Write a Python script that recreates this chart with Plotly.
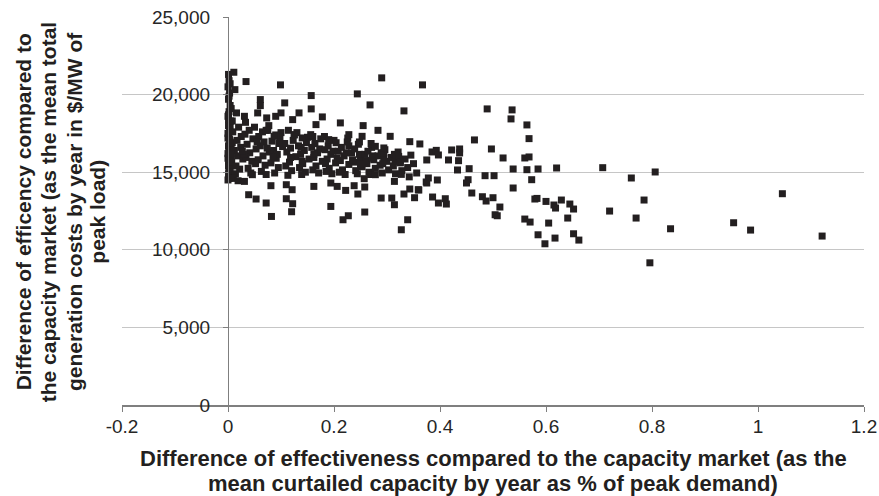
import plotly.graph_objects as go

# ---- data ----
axis_x = [0.001,0.002,0.000,0.003,0.001,0.004,0.002,0.000,0.005,0.001,
          0.003,0.002,0.000,0.004,0.001,0.006,0.002,0.003,0.000,0.001,
          0.005,0.002,0.004,0.001,0.003,0.000,0.002,0.006,0.001,0.004,
          0.003,0.002,0.000,0.005,0.001,0.003,0.002,0.004,0.001,0.000]
axis_y = [21300,20900,20500,20100,19700,19300,18900,18600,18300,18000,
          17700,17450,17200,16950,16700,16500,16300,16100,15900,15700,
          15500,15300,15100,14900,14700,14500,19900,19100,18400,17900,
          17100,16600,16200,15800,15400,15000,14600,20700,18700,17500]

near_x = [0.011,0.013,0.016,0.009,0.020,0.008,0.025,0.012,0.018,0.007,
          0.022,0.014,0.010,0.028,0.017,0.006,0.024,0.015,0.019,0.008]
near_y = [21440,20320,18820,17600,17900,16900,17300,16400,16050,15650,
          15200,14900,14600,15850,17050,16200,16600,15400,14450,18300]

band_x = [0.032,0.036,0.041,0.045,0.050,0.038,0.053,0.047,0.034,0.043,
          0.058,0.061,0.066,0.070,0.075,0.063,0.078,0.068,0.057,0.072,
          0.083,0.086,0.091,0.095,0.100,0.088,0.103,0.093,0.081,0.098,
          0.107,0.111,0.116,0.120,0.125,0.113,0.128,0.118,0.109,0.123,
          0.133,0.137,0.141,0.146,0.150,0.139,0.153,0.144,0.135,0.148,
          0.158,0.162,0.166,0.171,0.175,0.164,0.178,0.169,0.160,0.173,
          0.183,0.187,0.191,0.196,0.200,0.189,0.203,0.194,0.185,0.198,
          0.208,0.212,0.216,0.221,0.225,0.214,0.228,0.219,0.210,0.223,
          0.233,0.237,0.241,0.246,0.250,0.239,0.253,0.244,0.235,0.248,
          0.258,0.262,0.266,0.271,0.275,0.264,0.278,0.269,0.260,0.273,
          0.283,0.287,0.291,0.296,0.300,0.289,0.303,0.294,0.308,0.312,
          0.316,0.321,0.325,0.314,0.328,0.334,0.339,0.345,0.350,0.356,
          0.342]
band_y = [17450,16800,16250,15700,17900,15250,16500,17150,15950,14950,
          17300,16700,16050,15450,17700,15050,16300,16950,15800,14850,
          17000,16400,15900,15300,17550,14950,16650,16150,15600,17250,
          16850,16300,15650,15100,17400,14800,16000,16550,15400,17050,
          16700,16150,15550,15000,17250,14850,15850,16400,15300,16900,
          16600,15950,15400,14950,17150,16850,15700,16250,15150,16500,
          16450,15850,15250,14900,17050,16700,15600,16150,15050,16350,
          16350,15750,15150,14850,16950,16600,15500,16050,15000,16250,
          16250,15650,15100,16800,15900,16500,15350,14900,15800,16150,
          16150,15550,15000,16600,15800,16350,15250,14850,15750,16050,
          16050,15450,14950,16450,15700,16250,15150,15900,15950,15400,
          14900,16300,15600,16150,15100,15850,15300,16100,15550,14950,
          14700]

band2_x = [0.030,0.052,0.074,0.096,0.118,0.140,0.162,0.184,0.206,0.228,
           0.250,0.272,0.294,0.040,0.065,0.090,0.114,0.138,0.160,0.182,
           0.204,0.226,0.248,0.270,0.292,0.315,0.027,0.055,0.085,0.130]
band2_y = [16150,15550,16550,16850,15950,15700,16150,15550,15900,16700,
           15500,15900,16250,17700,17600,17400,17700,16600,17300,17300,
           16900,17200,16950,16850,15550,15700,16350,16950,16000,17550]

upper_x = [0.034,0.099,0.157,0.244,0.290,0.061,0.107,0.157,0.268,0.061,
           0.031,0.033,0.056,0.073,0.090,0.100,0.122,0.134,0.178,0.166,
           0.212,0.255,0.283,0.306,0.077,0.072,0.087,0.125,0.140,0.156,
           0.190,0.228,0.253,0.278,0.294,0.317]
upper_y = [20840,20626,19937,20046,21078,19679,19465,19078,19336,19291,
           18601,18214,18820,18498,18601,18820,18388,18820,18562,18066,
           18175,18001,17698,17311,18001,17698,17311,17420,17208,17420,
           17098,17420,17311,16666,16562,16130]

lower_x = [0.031,0.046,0.081,0.039,0.053,0.072,0.082,0.110,0.121,0.110,
           0.122,0.120,0.162,0.194,0.194,0.206,0.222,0.217,0.227,0.238,
           0.245,0.257,0.258,0.258,0.278,0.289,0.309,0.314,0.314,0.327,
           0.339,0.359,0.374]
lower_y = [14408,14840,14130,13549,13272,13014,12149,14194,13872,13291,
           12969,12452,14085,14304,12794,14085,13827,11936,12194,14130,
           13595,14582,14046,12433,14840,13336,13336,12904,14408,11291,
           11936,13872,14369]

mid_x = [0.367,0.332,0.489,0.536,0.534,0.564,0.343,0.362,0.465,0.568,
         0.385,0.393,0.397,0.422,0.437,0.437,0.497,0.375,0.416,0.435,
         0.519,0.560,0.568,0.322,0.325,0.433,0.455,0.538,0.564,0.585,
         0.620,0.707,0.327,0.485,0.502,0.378,0.375,0.395,0.453,0.450,
         0.573,0.761,0.538,0.343,0.360,0.332,0.352,0.386,0.410,0.397,
         0.412,0.460,0.480,0.487,0.500,0.513,0.504,0.508,0.579,0.583,
         0.600,0.615,0.618,0.629,0.645,0.652,0.560,0.570,0.605,0.641,
         0.585,0.598,0.617,0.652,0.662,0.720,0.770,0.785]
mid_y = [20626,18950,19078,19014,18433,18046,16968,16820,17079,17163,
         16304,16408,16111,16433,16497,16240,16497,15788,15788,15743,
         15917,15917,15982,16020,15633,15143,15227,15207,15162,15207,
         15272,15291,14859,14775,14775,14627,14304,14498,14517,14304,
         14517,14627,13982,13917,13853,13595,13356,13401,13291,13014,
         12949,13659,13420,13143,13356,12756,12259,12194,13272,13311,
         13117,12885,12691,13207,12949,12627,11981,11788,11723,12046,
         10968,10388,10755,11033,10626,12497,12046,13207]

tail_x = [0.806, 1.046, 0.835, 0.954, 0.986, 1.121, 0.796]
tail_y = [15014, 13614, 11355, 11743, 11271, 10885, 9162]

x_ticks = [-0.2, 0, 0.2, 0.4, 0.6, 0.8, 1.0, 1.2]
x_ticktext = ["-0.2", "0", "0.2", "0.4", "0.6", "0.8", "1", "1.2"]
y_ticks = [0, 5000, 10000, 15000, 20000, 25000]

x_title_lines = ["Difference of effectiveness compared to the capacity market (as the",
                 "mean curtailed capacity by year as % of peak demand)"]
y_title_lines = ["Difference of efficency compared to",
                 "the capacity market (as the mean total",
                 "generation costs by year in $/MW of",
                 "peak load)"]

all_x = axis_x + near_x + band_x + band2_x + upper_x + lower_x + mid_x + tail_x
all_y = axis_y + near_y + band_y + band2_y + upper_y + lower_y + mid_y + tail_y

FONT = "Liberation Sans, Arial, sans-serif"
INK = "#231f20"

fig = go.Figure()
fig.add_trace(go.Scatter(
    x=all_x, y=all_y, mode="markers",
    marker=dict(symbol="square", size=7, color=INK, line=dict(width=0)),
    showlegend=False, hoverinfo="x+y",
))

L, R, T, B = 122, 15, 17, 91
W, H = 879, 496
pw = W - L - R
ph = H - T - B
x0_frac = (0 - (-0.2)) / 1.4

annotations = []
for i, line in enumerate(x_title_lines):
    py = [458, 483][i]
    annotations.append(dict(
        text="<b>" + line + "</b>", xref="paper", yref="paper",
        x=0.5, y=(H - B - py) / ph, xanchor="center", yanchor="middle",
        showarrow=False, font=dict(family=FONT, size=22, color=INK)))
for i, line in enumerate(y_title_lines):
    px = [23.3, 48.3, 74.0, 96.7][i]
    annotations.append(dict(
        text="<b>" + line + "</b>", xref="paper", yref="paper",
        x=(px - L) / pw, y=(H - B - 212) / ph, xanchor="center", yanchor="middle",
        textangle=-90, showarrow=False, font=dict(family=FONT, size=21, color=INK)))

fig.update_layout(
    width=W, height=H, autosize=False,
    margin=dict(l=L, r=R, t=T, b=B, pad=0, autoexpand=False),
    paper_bgcolor="white", plot_bgcolor="white",
    font=dict(family=FONT, color="#262626"),
    xaxis=dict(
        range=[-0.2, 1.2], tickvals=x_ticks, ticktext=x_ticktext,
        showgrid=False, zeroline=False, showline=True, automargin=False,
        linecolor="#7f7f7f", linewidth=1.5, ticks="outside", ticklen=5,
        tickcolor="#7f7f7f", tickwidth=1, tickfont=dict(size=19, color="#262626"),
        ticklabelstandoff=-2, ticklabeloverflow="allow",
    ),
    yaxis=dict(
        range=[0, 25000], tickvals=y_ticks, tickformat=",d", automargin=False,
        showgrid=True, gridcolor="#c6c6c6", gridwidth=1.3, zeroline=False,
        showline=True, linecolor="#7f7f7f", linewidth=1.3,
        anchor="free", position=x0_frac,
        ticks="outside", ticklen=5, tickcolor="#7f7f7f", tickwidth=1,
        tickfont=dict(size=19, color="#262626"), ticklabelstandoff=9,
    ),
    annotations=annotations,
)

fig.write_html("out.html")
